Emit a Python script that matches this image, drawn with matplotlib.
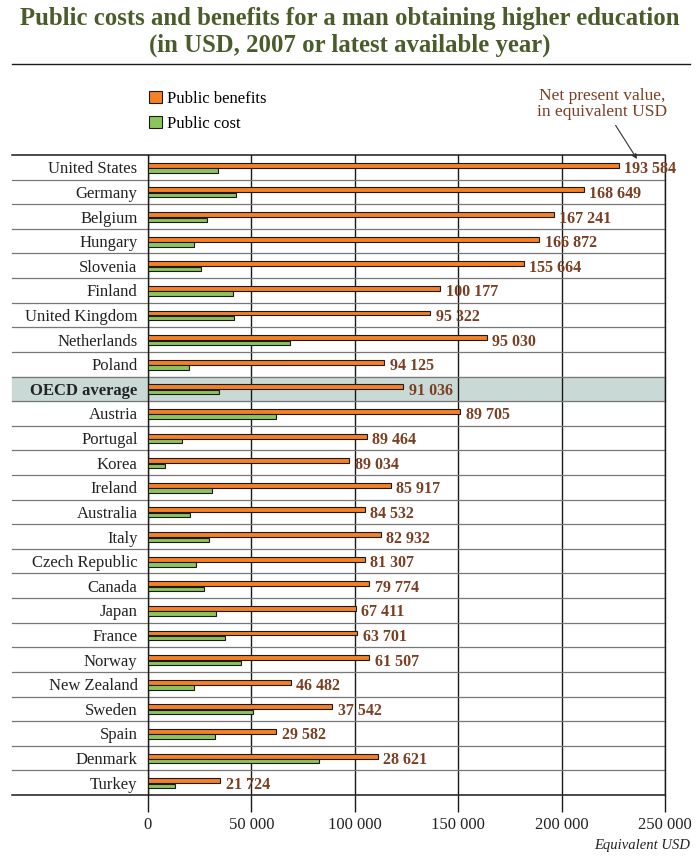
import matplotlib
matplotlib.use('Agg')
import matplotlib.pyplot as plt
import numpy as np

countries = ['United States', 'Germany', 'Belgium', 'Hungary', 'Slovenia', 'Finland',
             'United Kingdom', 'Netherlands', 'Poland', 'OECD average', 'Austria',
             'Portugal', 'Korea', 'Ireland', 'Australia', 'Italy', 'Czech Republic',
             'Canada', 'Japan', 'France', 'Norway', 'New Zealand', 'Sweden', 'Spain',
             'Denmark', 'Turkey']
benefits = [227600, 210600, 196100, 189300, 181600, 141400, 136500, 163700, 114200,
            123400, 150800, 105700, 97100, 117300, 104700, 112500, 104700, 107000,
            100400, 101000, 106900, 69000, 88900, 62000, 111000, 34900]
costs = [34000, 42500, 28700, 22300, 25700, 40900, 41500, 68700, 19900, 34500, 62000,
         16400, 8100, 31100, 20400, 29600, 23300, 27200, 33000, 37300, 45100, 22300,
         51000, 32500, 82600, 13000]
net_values = [193584, 168649, 167241, 166872, 155664, 100177, 95322, 95030, 94125,
              91036, 89705, 89464, 89034, 85917, 84532, 82932, 81307, 79774, 67411,
              63701, 61507, 46482, 37542, 29582, 28621, 21724]
xticks = [0, 50000, 100000, 150000, 200000, 250000]

SERIF = 'Liberation Serif'
ORANGE = '#f58025'
GREEN = '#8cc55c'
BROWN = '#7a3f22'
TITLE = '#4a5c2a'

plt.rcParams['font.family'] = SERIF

fig = plt.figure(figsize=(7, 8.67), dpi=100)
W, H = 700.0, 867.0
ax = fig.add_axes([148 / W, 1 - 795 / H, 517 / W, 640 / H])

y = np.arange(len(countries))
b1 = ax.barh(y - 0.08, benefits, height=0.2, color=ORANGE, edgecolor='#1a1a1a',
             linewidth=0.8, zorder=3, label='Public benefits')
b2 = ax.barh(y + 0.13, costs, height=0.18, color=GREEN, edgecolor='#1a1a1a',
             linewidth=0.8, zorder=3, label='Public cost')

for i, (b, v) in enumerate(zip(benefits, net_values)):
  ax.text(b + 2800, i + 0.08, '{:,}'.format(v).replace(',', ' '), ha='left', va='center',
          fontsize=11.5, fontweight='bold', color=BROWN, zorder=4)

ax.set_xlim(0, 250000)
ax.set_ylim(len(countries) - 0.5, -0.5)

# row separators reaching into the label area
x0 = (12 - 148) / 517.0
for k in range(len(countries) + 1):
  edge = k == 0 or k == len(countries)
  ax.axhline(k - 0.5, xmin=x0, xmax=1, color='#1a1a1a' if edge else '#777777',
             lw=1.1 if edge else 0.9, clip_on=False, zorder=2)
oecd = countries.index('OECD average')
ax.axhspan(oecd - 0.5, oecd + 0.5, xmin=x0, xmax=1, color='#c9d9d5', clip_on=False, zorder=0)

ax.set_xticks(xticks)
ax.set_xticklabels(['{:,}'.format(t).replace(',', ' ') for t in xticks])
ax.xaxis.grid(True, color='#1a1a1a', lw=1.0, zorder=1)
ax.set_axisbelow(True)
ax.tick_params(axis='x', direction='out', length=12, width=1.0, color='#1a1a1a',
               labelsize=12, pad=4, labelcolor='#222222')
ax.set_yticks(y)
ax.set_yticklabels(countries)
ax.tick_params(axis='y', length=0, pad=7.5, labelsize=12, labelcolor='#222222')
for lab in ax.get_yticklabels():
  if lab.get_text() == 'OECD average':
    lab.set_fontweight('bold')

for s in ['top', 'bottom']:
  ax.spines[s].set_visible(False)
for s in ['left', 'right']:
  ax.spines[s].set_color('#1a1a1a')
  ax.spines[s].set_linewidth(1.0)

fig.text(690 / W, 1 - 845 / H, 'Equivalent USD', ha='right', va='center',
         fontsize=10.5, style='italic', color='#222222')

# title
fig.text(0.5, 1 - 18 / H, 'Public costs and benefits for a man obtaining higher education',
         ha='center', va='center', fontsize=17.8, fontweight='bold', color=TITLE)
fig.text(0.5, 1 - 45 / H, '(in USD, 2007 or latest available year)',
         ha='center', va='center', fontsize=17.8, fontweight='bold', color=TITLE)
fig.add_artist(plt.Line2D([12 / W, 690 / W], [1 - 64 / H, 1 - 64 / H],
                          color='#1a1a1a', lw=1.0))

ax.legend(handles=[b1, b2], loc='upper left', bbox_to_anchor=(149 / W, 1 - 91 / H),
          bbox_transform=fig.transFigure, frameon=False, fontsize=12,
          handlelength=0.75, handleheight=0.75, handletextpad=0.35,
          labelspacing=0.55, borderpad=0, borderaxespad=0)

ax.annotate('Net present value,\nin equivalent USD', xy=(637 / W, 1 - 159 / H),
            xycoords='figure fraction', xytext=(602 / W, 1 - 104 / H),
            textcoords='figure fraction', ha='center', va='center', fontsize=12.5,
            color=BROWN, linespacing=1.05,
            arrowprops=dict(arrowstyle='-|>', color='#333333', lw=0.8,
                            shrinkA=2, shrinkB=0, mutation_scale=7))

fig.savefig('out.png', dpi=100)
